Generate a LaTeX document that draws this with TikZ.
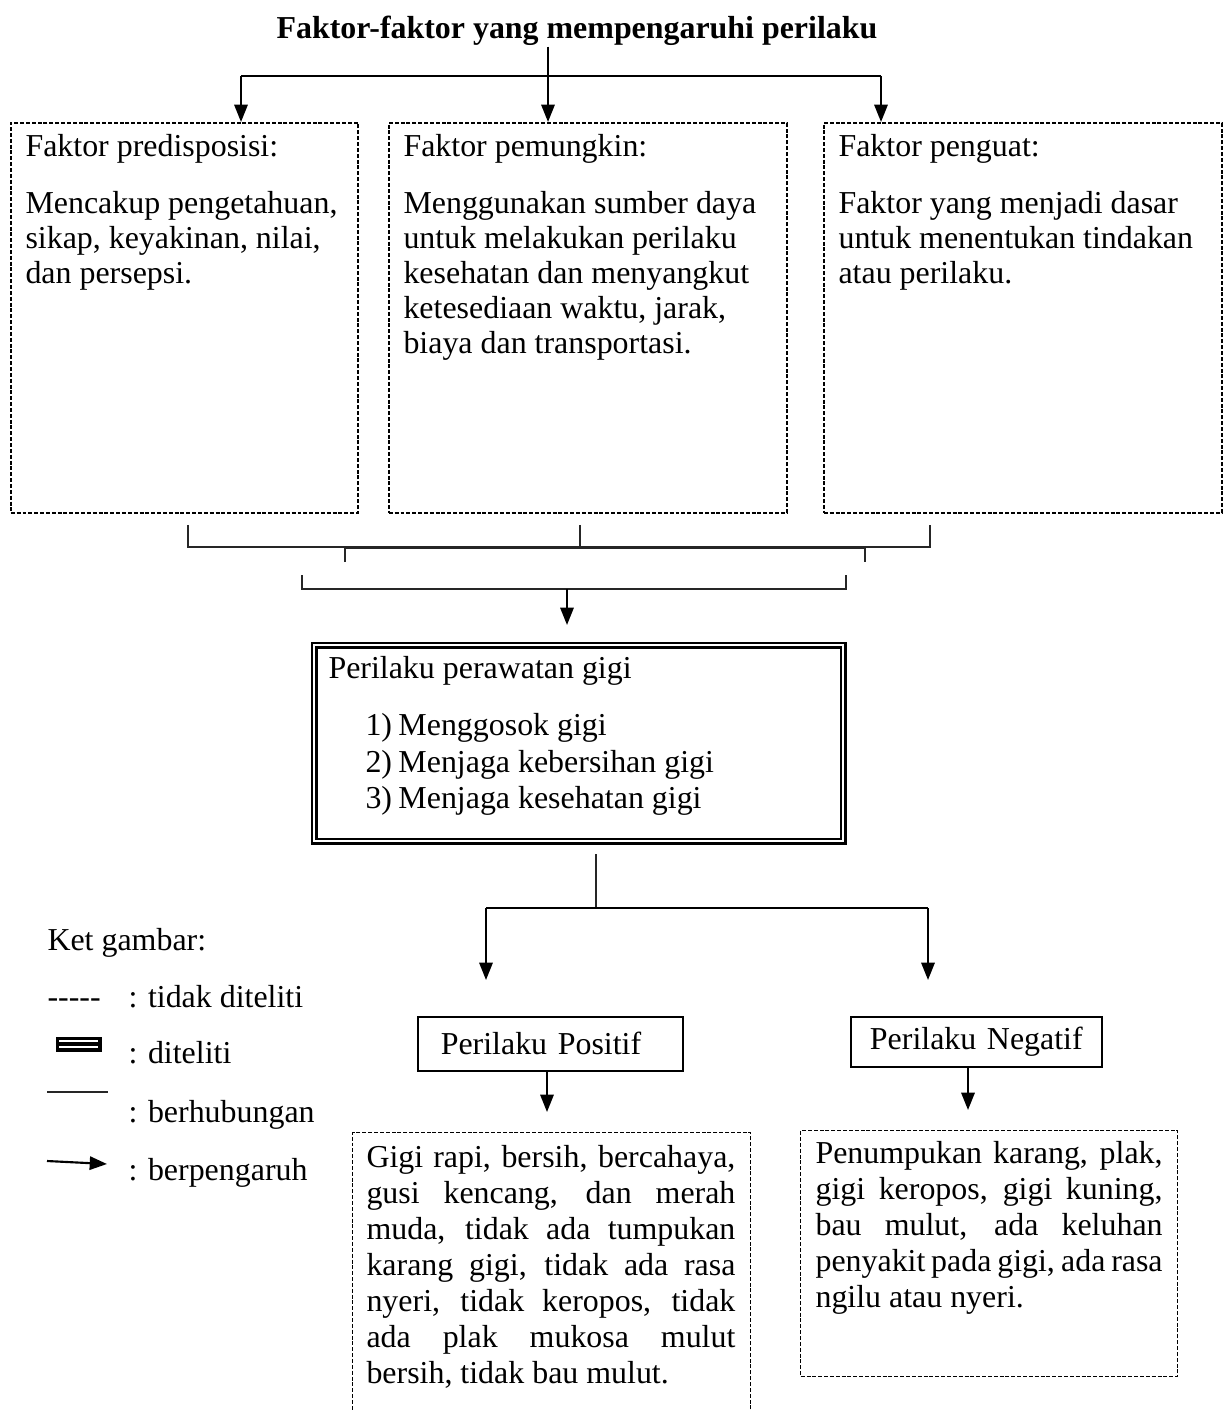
\documentclass[tikz,border=0pt]{standalone}
\usepackage{fontspec}
\setmainfont{Liberation Serif}
\usetikzlibrary{arrows.meta, positioning, calc}
\newcommand{\pxu}{0.376pt}

\begin{document}
\begin{tikzpicture}[
        % gaya
        x=0.376pt, y=-0.376pt,
        >={Triangle[length=6.5pt, width=5pt]},
        every node/.style={font=\fontsize{12}{13.2}\selectfont},
        kotak/.style={
            draw, dash pattern=on 1.5pt off 0.7pt, line width=0.6pt,
            anchor=north west, inner sep=0, minimum height=390*\pxu
        },
        isi/.style={anchor=north west, inner sep=0, align=left},
        teliti/.style={
            draw, double, line width=0.9pt, double distance=0.9pt,
            anchor=north west, inner sep=0
        },
        hasil/.style={draw, line width=0.6pt, anchor=north west, inner ysep=0},
        ket/.style={anchor=base west, inner sep=0},
        garis/.style={line width=0.5pt, color=black!85},
        panah/.style={->, line width=0.8pt}
    ]

    \clip (0,0) rectangle (1226,1411);

    % 1. judul dan faktor
    \node (judul) [anchor=base, inner sep=0, font=\fontsize{12}{13.2}\selectfont\bfseries]
        at (577,39) {Faktor-faktor yang mempengaruhi perilaku};

    \node (predisposisi) [kotak, minimum width=347*\pxu] at (10,122) {};
    \node (pemungkin) [kotak, minimum width=398*\pxu] at (388,122) {};
    \node (penguat) [kotak, minimum width=398*\pxu] at (823,122) {};

    \node (isipredisposisi) [isi] at (25,134) {Faktor predisposisi:\\[8pt]
        Mencakup pengetahuan,\\ sikap, keyakinan, nilai,\\ dan persepsi.};
    \node (isipemungkin) [isi] at (403,134) {Faktor pemungkin:\\[8pt]
        Menggunakan sumber daya\\ untuk melakukan perilaku\\ kesehatan dan menyangkut\\
        ketesediaan waktu, jarak,\\ biaya dan transportasi.};
    \node (isipenguat) [isi] at (838,134) {Faktor penguat:\\[8pt]
        Faktor yang menjadi dasar\\ untuk menentukan tindakan\\ atau perilaku.};

    % panah dari judul
    \coordinate (atas) at (548,76);
    \coordinate (atasL) at (241,76);
    \coordinate (atasR) at (881,76);
    \draw[line width=0.6pt] (judul.south -| atas) -- (atas);
    \draw[line width=0.6pt] (atasL) -- (atasR);
    \draw[panah] (atasL) -- (atasL |- predisposisi.north);
    \draw[panah] (atas) -- (atas |- pemungkin.north);
    \draw[panah] (atasR) -- (atasR |- penguat.north);

    % 2. kurung penghubung
    \coordinate (k1) at (188,525);
    \coordinate (k2) at (580,525);
    \coordinate (k3) at (930,525);
    \draw[garis] (k1) -- (188,547) -- (930,547) -- (k3);
    \draw[garis] (k2) -- (580,547);
    \draw[garis] (345,562) -- (345,548) -- (865,548) -- (865,562);
    \draw[garis] (302,575) -- (302,589) -- (846,589) -- (846,575);
    \coordinate (gabung) at (567,589);

    % 3. perilaku perawatan gigi
    \node (perawatan) [teliti, minimum width=529*\pxu, minimum height=196*\pxu] at (313,644) {};
    \node (isiperawatan) [isi] at (328,656) {Perilaku perawatan gigi\\[8pt]
        \hspace*{13.9pt}\makebox[12.4pt][l]{1)}Menggosok gigi\\[0.7pt]
        \hspace*{13.9pt}\makebox[12.4pt][l]{2)}Menjaga kebersihan gigi\\[0.7pt]
        \hspace*{13.9pt}\makebox[12.4pt][l]{3)}Menjaga kesehatan gigi};
    \draw[panah, shorten >=19*\pxu] (gabung) -- (gabung |- perawatan.north);

    % 4. positif dan negatif
    \node (positif) [hasil, minimum height=54*\pxu, inner xsep=23*\pxu, text width=219*\pxu, align=left]
        at (417,1016) {Perilaku Positif};
    \node (negatif) [hasil, minimum height=50*\pxu, inner xsep=0, text width=251*\pxu, align=center]
        at (850,1016) {Perilaku Negatif};

    \coordinate (pisah) at (596,908);
    \coordinate (pisahL) at (486,908);
    \coordinate (pisahR) at (928,908);
    \draw[garis, shorten <=12*\pxu] (perawatan.south -| pisah) -- (pisah);
    \draw[line width=0.6pt] (pisahL) -- (pisahR);
    \draw[panah, shorten >=36*\pxu] (pisahL) -- (pisahL |- positif.north);
    \draw[panah, shorten >=36*\pxu] (pisahR) -- (pisahR |- negatif.north);

    \node (gigibaik) [kotak, line width=0.5pt, minimum width=398*\pxu, minimum height=300*\pxu] at (352,1132) {};
    \node (gigiburuk) [kotak, line width=0.5pt, minimum width=377*\pxu, minimum height=246*\pxu] at (800,1130) {};

    \node (isibaik) [isi, font=\fontsize{12}{13.5}\selectfont] at (366,1145) {%
        \makebox[138.7pt][s]{Gigi rapi, bersih, bercahaya,}\\
        \makebox[138.7pt][s]{gusi kencang, dan merah}\\
        \makebox[138.7pt][s]{muda, tidak ada tumpukan}\\
        \makebox[138.7pt][s]{karang gigi, tidak ada rasa}\\
        \makebox[138.7pt][s]{nyeri, tidak keropos, tidak}\\
        \makebox[138.7pt][s]{ada plak mukosa mulut}\\
        bersih, tidak bau mulut.};
    \node (isiburuk) [isi, font=\fontsize{12}{13.5}\selectfont] at (815,1141) {%
        \makebox[130.5pt][s]{Penumpukan karang, plak,}\\
        \makebox[130.5pt][s]{gigi keropos, gigi kuning,}\\
        \makebox[130.5pt][s]{bau mulut, ada keluhan}\\
        \makebox[130.5pt][s]{penyakit pada gigi, ada rasa}\\
        ngilu atau nyeri.};

    \coordinate (turunL) at (547,1070);
    \coordinate (turunR) at (968,1066);
    \draw[panah, shorten >=20*\pxu] (positif.south -| turunL) -- (turunL |- gigibaik.north);
    \draw[panah, shorten >=20*\pxu] (negatif.south -| turunR) -- (turunR |- gigiburuk.north);

    % 5. keterangan gambar
    \node (ketjudul) [ket] at (47,950) {Ket gambar:};
    \node (ketputus) [ket] at (47,1007) {{-}{-}{-}{-}{-}};
    \node (kettidak) [ket] at (128,1007) {: tidak diteliti};
    \node (ketganda) [fill=black, anchor=north west, inner sep=0,
        minimum width=46*\pxu, minimum height=15*\pxu] at (55,1036) {};
    \draw[white, line width=2*\pxu] ([shift={(4,4.5)}]ketganda.north west) -- ([shift={(-4,4.5)}]ketganda.north east);
    \draw[white, line width=2*\pxu] ([shift={(4,10.5)}]ketganda.north west) -- ([shift={(-4,10.5)}]ketganda.north east);
    \node (ketditeliti) [ket] at (128,1063) {: diteliti};
    \coordinate (ketgarisA) at (47,1092);
    \coordinate (ketgarisB) at (108,1092);
    \draw[garis] (ketgarisA) -- (ketgarisB);
    \node (kethubung) [ket] at (128,1122) {: berhubungan};
    \coordinate (ketpanahA) at (47,1161);
    \coordinate (ketpanahB) at (107,1164);
    \draw[panah] (ketpanahA) -- (ketpanahB);
    \node (ketpengaruh) [ket] at (128,1180) {: berpengaruh};

\end{tikzpicture}
\end{document}
